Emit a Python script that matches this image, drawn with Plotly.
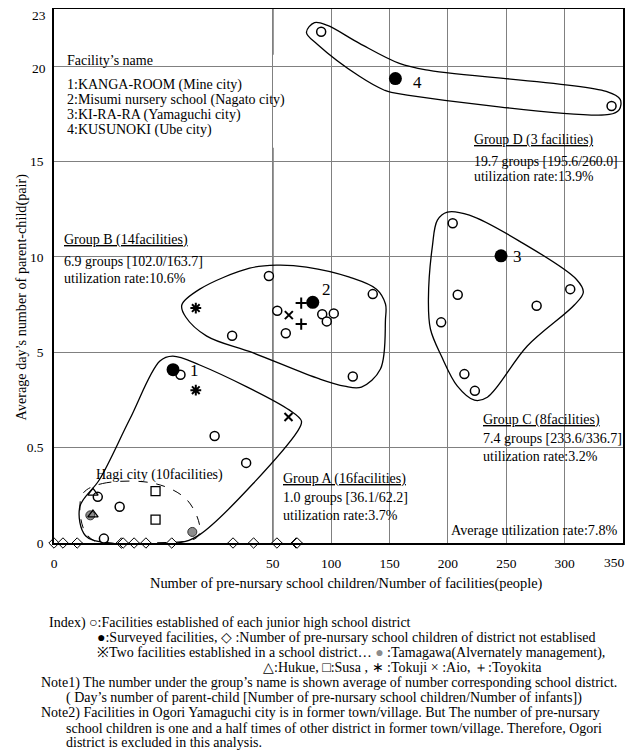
import plotly.graph_objects as go

# ---------------- data (original units) ----------------
x_ticks = [0, 50, 100, 150, 200, 250, 300, 350]
y_ticks = [0, 0.5, 5, 10, 15, 20, 23]

# open circles: facilities established in each junior high school district
open_x = [28.9, 36.7, 43.9, 10.0, 15.0, 11.4,
          49.1, 53.8, 61.1, 40.7, 92.3, 96.2, 102.2, 135.6, 118.5,
          204.1, 208.4, 194.2, 276.0, 304.8, 214.1, 223.1,
          91.4, 340.2]
open_y = [3.94, 1.05, 0.42, 0.242, 0.19, 0.023,
          9.0, 7.18, 6.0, 5.87, 6.99, 6.62, 7.04, 8.05, 3.86,
          11.77, 8.02, 6.57, 7.44, 8.31, 3.97, 3.18,
          21.81, 17.91]

# surveyed facilities
surv_x = [27.2, 84.2, 245.5, 155.0]
surv_y = [4.18, 7.62, 10.06, 19.35]
surv_lab = ["1", "2", "3", "4"]

# two facilities in one district
tama_x, tama_y = [8.3, 31.6], [0.145, 0.058]      # Tamagawa (grey)
hukue_x, hukue_y = [8.9, 8.9], [0.263, 0.149]     # triangles
susa_x, susa_y = [23.2, 23.2], [0.272, 0.123]     # squares
tokuji_x, tokuji_y = [32.4, 32.4], [3.21, 7.32]   # asterisk
aio_x, aio_y = [63.4, 63.7], [1.95, 6.95]         # x
toyo_x, toyo_y = [74.3, 74.3], [7.58, 6.48]       # +

# districts without a facility (diamonds on the baseline)
dia_x = [0, 2.05, 5.3, 15.4, 15.8, 18.3, 21.0, 26.9, 40.9, 45.6, 53.5, 70.0, 70.8]
dia_y = [0] * len(dia_x)

# group outlines (original units)
grpA_x = [24.2, 27.1, 33.3, 64.3, 74.5, 71.1, 33.3, 28.2, 12.7, 7.2, 5.9, 10.4, 17.3]
grpA_y = [4.59, 4.82, 4.40, 2.27, 1.75, 1.27, 0.044, 0.0, 0.0, 0.038, 0.19, 0.333, 1.84]
grpB_x = [29.2, 33.3, 44.7, 53.2, 78.8, 115.7, 138.8, 146.5, 146.5, 142.2, 125.9, 111.4, 90.0, 45.4, 34.9, 30.1]
grpB_y = [7.48, 8.31, 9.41, 9.57, 9.47, 8.94, 8.31, 7.53, 6.74, 4.21, 3.36, 3.40, 3.74, 4.98, 5.85, 6.85]
grpC_x = [199.5, 191.0, 186.7, 183.3, 185.0, 194.4, 208.1, 222.7, 233.8, 268.0, 308.3, 316.0, 310.0, 261.2, 218.4]
grpC_y = [12.35, 11.93, 10.57, 7.79, 6.22, 4.82, 3.40, 2.74, 2.88, 5.33, 7.48, 8.15, 8.83, 10.83, 12.19]
grpD_x = [78.8, 85.7, 96.8, 124.2, 158.4, 184.1, 335.6, 347.6, 346.8, 338.2, 151.5, 145.6, 124.2, 88.3]
grpD_y = [21.77, 22.29, 22.14, 21.20, 20.15, 19.78, 18.68, 18.26, 17.73, 17.47, 18.63, 18.74, 19.47, 21.14]
hagi_x = [6.8, 11.1, 23.0, 30.3, 33.3, 32.6, 21.8, 10.4, 7.2, 5.9]
hagi_y = [0.265, 0.312, 0.312, 0.228, 0.086, 0.028, 0.0, 0.0, 0.054, 0.191]


# ---------------- broken-axis scales ----------------
def tx(v):
    return v * 3.75 if v <= 50 else 187.5 + (v - 50)


def ty(v):
    if v <= 0.5:
        return v * 10
    if v <= 5:
        return 5 + (v - 0.5) / 4.5 * 5
    return v + 5


def TX(a):
    return [tx(v) for v in a]


def TY(a):
    return [ty(v) for v in a]


# page layout (the html body adds an 8px offset around the figure)
OFF = 8
PAGE_W, PAGE_H = 635, 751
L, R, T, B = 54.3, 623.3, 9.3, 543.3          # plot area in page pixels
FIG_W, FIG_H = PAGE_W - OFF, PAGE_H - OFF


def px(x):
    return (x - L) / (R - L)


def py(y):
    return (B - y) / (B - T)


FONT = "Liberation Serif"
fig = go.Figure()


def outline(xs, ys, dash="solid", width=1.3):
    xx = TX(xs) + [tx(xs[0])]
    yy = TY(ys) + [ty(ys[0])]
    fig.add_trace(go.Scatter(x=xx, y=yy, mode="lines",
                             line=dict(color="black", width=width, shape="spline",
                                       smoothing=1, dash=dash),
                             hoverinfo="skip", cliponaxis=False))


outline(grpA_x, grpA_y)
outline(grpB_x, grpB_y)
outline(grpC_x, grpC_y)
outline(grpD_x, grpD_y)
outline(hagi_x, hagi_y, dash="dash", width=1)

fig.add_trace(go.Scatter(x=TX(dia_x), y=TY(dia_y), mode="markers", cliponaxis=False,
                         marker=dict(symbol="diamond", size=8, color="white",
                                     line=dict(color="black", width=1))))
fig.add_trace(go.Scatter(x=TX(open_x), y=TY(open_y), mode="markers",
                         marker=dict(symbol="circle", size=9, color="white",
                                     line=dict(color="black", width=1.5))))
fig.add_trace(go.Scatter(x=TX(tama_x), y=TY(tama_y), mode="markers",
                         marker=dict(symbol="circle", size=9, color="#8c8c8c",
                                     line=dict(color="#333", width=1))))
fig.add_trace(go.Scatter(x=TX(hukue_x), y=TY(hukue_y), mode="markers",
                         marker=dict(symbol="triangle-up-open", size=9, color="black",
                                     line=dict(width=1.3))))
fig.add_trace(go.Scatter(x=TX(susa_x), y=TY(susa_y), mode="markers",
                         marker=dict(symbol="square-open", size=9, color="black",
                                     line=dict(width=1.3))))
fig.add_trace(go.Scatter(x=TX(tokuji_x), y=TY(tokuji_y), mode="markers",
                         marker=dict(symbol="asterisk-open", size=9, color="black",
                                     line=dict(width=2))))
fig.add_trace(go.Scatter(x=TX(aio_x), y=TY(aio_y), mode="markers",
                         marker=dict(symbol="x-thin-open", size=8, color="black",
                                     line=dict(width=2))))
fig.add_trace(go.Scatter(x=TX(toyo_x), y=TY(toyo_y), mode="markers",
                         marker=dict(symbol="cross-thin-open", size=8, color="black",
                                     line=dict(width=2))))
fig.add_trace(go.Scatter(x=TX(surv_x), y=TY(surv_y), mode="markers",
                         marker=dict(symbol="circle", size=13, color="black")))

# ---------------- grid masks & dark break line ----------------
shapes = [dict(type="line", xref="x", yref="paper", x0=tx(50), x1=tx(50), y0=0, y1=1,
               line=dict(color="#222", width=1.2), layer="between")]
masks = [(56, 55, 330, 148), (56, 228, 206, 290), (463, 118, 621, 188),
         (473, 408, 621, 466), (278, 466, 410, 533), (446, 520, 621, 541),
         (511, 250, 524, 265)]
for x0, y0, x1, y1 in masks:
    shapes.append(dict(type="rect", xref="paper", yref="paper",
                       x0=px(x0), x1=px(x1), y0=py(y1), y1=py(y0),
                       fillcolor="white", line=dict(width=0), layer="between"))

# ---------------- texts ----------------
ann = []


def text(x, y, s, size=14, xanchor="left", angle=0):
    ann.append(dict(x=px(x), y=py(y), xref="paper", yref="paper", text=s,
                    showarrow=False, xanchor=xanchor, yanchor="middle",
                    textangle=angle, borderpad=0,
                    font=dict(family=FONT, size=size, color="black")))


FL = 14
text(66, 61, "Facility’s name", FL)
text(66, 85.5, "1:KANGA-ROOM (Mine city)", FL)
text(66, 100.5, "2:Misumi nursery school (Nagato city)", FL)
text(66, 115.5, "3:KI-RA-RA (Yamaguchi city)", FL)
text(66, 130.5, "4:KUSUNOKI (Ube city)", FL)

text(63, 240, "<u>Group B (14facilities)</u>")
text(63, 262, "6.9 groups [102.0/163.7]")
text(63, 279, "utilization rate:10.6%")

text(473, 140, "<u>Group D (3 facilities)</u>", 13.8)
text(473, 162, "19.7 groups [195.6/260.0]", 13.8)
text(473, 177, "utilization rate:13.9%", 13.8)

text(482, 420, "<u>Group C (8facilities)</u>")
text(482, 439, "7.4 groups [233.6/336.7]")
text(482, 457, "utilization rate:3.2%")

text(282, 479, "<u>Group A (16facilities)</u>")
text(282, 498, "1.0 groups [36.1/62.2]")
text(282, 516, "utilization rate:3.7%")

text(95, 475, "Hagi city (10facilities)")
text(450, 530, "Average utilization rate:7.8%", 14.2)

for lab, (lx, ly) in zip(surv_lab, [(189, 371), (321, 290), (512, 257), (412, 83)]):
    text(lx, ly, lab, size=17)

# axis titles and displaced tick labels
text(21.5, 297.5, "Average day’s number of parent-child(pair)", 14.2, xanchor="center", angle=-90)
text(347, 584, "Number of pre-nursary school children/Number of facilities(people)", 14.4,
     xanchor="center")
text(615, 563, "350", 13.5, xanchor="center")
text(47, 16, "23", 13.5, xanchor="right")
text(47, 69, "20", 13.5, xanchor="right")

NS = 14
Y0, DY = 623, 15.05
text(48, Y0, "Index) ○:Facilities established of each junior high school district", NS)
text(96, Y0 + DY, "●:Surveyed facilities, ◇ :Number of pre-nursary school children of district not establised", NS)
text(96, Y0 + 2 * DY, "※Two facilities established in a school district… "
     "<span style='color:#8c8c8c'>●</span> :Tamagawa(Alvernately management),", NS)
text(262, Y0 + 3 * DY, "△:Hukue, □:Susa , ∗ :Tokuji × :Aio, ＋:Toyokita", NS)
text(40, Y0 + 4 * DY, "Note1) The number under the group’s name is shown average of number corresponding school district.", NS)
text(65, Y0 + 5 * DY, "( Day’s number of parent-child [Number of pre-nursary school children/Number of infants])", NS)
text(40, Y0 + 6 * DY, "Note2) Facilities in Ogori Yamaguchi city is in former town/village. But The number of pre-nursary", NS)
text(65, Y0 + 7 * DY, "school children is one and a half times of other district in former town/village. Therefore, Ogori", NS)
text(65, Y0 + 8 * DY - 0.5, "district is excluded in this analysis.", NS)

fig.update_layout(
    width=FIG_W, height=FIG_H,
    margin=dict(l=L - OFF, r=FIG_W - (R - OFF), t=T - OFF, b=FIG_H - (B - OFF), pad=0),
    paper_bgcolor="white", plot_bgcolor="white",
    showlegend=False,
    font=dict(family=FONT, size=13.5, color="black"),
    shapes=shapes, annotations=ann,
    xaxis=dict(range=[0, tx(350)], tickvals=TX(x_ticks),
               ticktext=[str(v) for v in x_ticks[:-1]] + [""],
               showgrid=True, gridcolor="#808080", gridwidth=1, zeroline=False,
               showline=True, linecolor="black", linewidth=1.5, mirror=True,
               ticks="", tickfont=dict(family=FONT, size=13.5), ticklabelstandoff=7,
               automargin=False),
    yaxis=dict(range=[0, ty(23)], tickvals=TY(y_ticks),
               ticktext=[str(v) for v in y_ticks[:-2]] + ["", ""],
               showgrid=True, gridcolor="#808080", gridwidth=1, zeroline=False,
               showline=True, linecolor="black", linewidth=1.5, mirror=True,
               ticks="", tickfont=dict(family=FONT, size=13.5), ticklabelstandoff=6,
               automargin=False),
)

fig.write_html("out.html")
